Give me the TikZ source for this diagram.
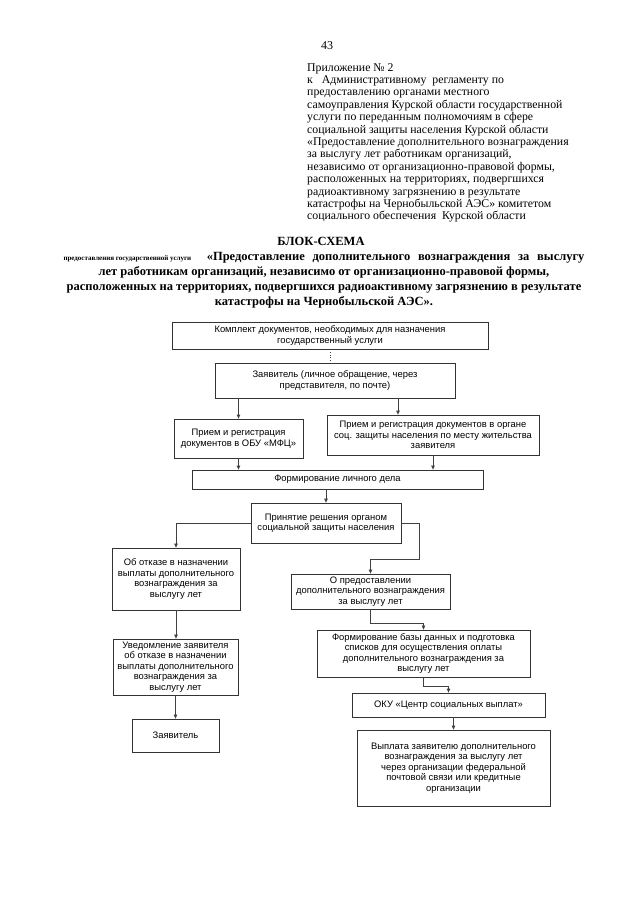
\documentclass[tikz,border=0pt]{standalone}
\usepackage{fontspec}
\setmainfont{Liberation Serif}
\setsansfont{Liberation Sans}
\usepackage{tikz}
\usetikzlibrary{arrows.meta}

\begin{document}
\begin{tikzpicture}[x=1pt,y=-1pt,every node/.style={inner sep=0pt,align=center},
  box/.style={draw=black!80,line width=0.7pt,font=\sffamily\fontsize{9.4}{10.6}\selectfont},
  line/.style={draw=black!75,line width=0.7pt},
  arr/.style={line,-{Triangle[length=4pt,width=3.4pt]}}]
\useasboundingbox[fill=white] (0,0) rectangle (640,905);

% header
\node[font=\fontsize{12}{12}\selectfont] (page) at (327,46) {43};
\node[anchor=north west,align=left,font=\fontsize{11.8}{12.4}\selectfont] (annex) at (307,63) {Приложение № 2\\
к\ \ \ Административному\ \ регламенту по\\
предоставлению органами местного\\
самоуправления Курской области государственной\\
услуги по переданным полномочиям в сфере\\
социальной защиты населения Курской области\\
«Предоставление дополнительного вознаграждения\\
за выслугу лет работникам организаций,\\
независимо от организационно-правовой формы,\\
расположенных на территориях, подвергшихся\\
радиоактивному загрязнению в результате\\
катастрофы на Чернобыльской АЭС» комитетом\\
социального обеспечения\ \ Курской области};

\node[font=\bfseries\fontsize{12.5}{14}\selectfont] (title) at (321,241) {БЛОК-СХЕМА};
\node[font=\bfseries\fontsize{12.5}{15}\selectfont] (subtitle) at (324,280) {\makebox[521pt][s]{\mbox{\fontsize{7}{8}\selectfont предоставления государственной услуги}\ \ «Предоставление дополнительного вознаграждения за выслугу}\\
лет работникам организаций, независимо от организационно-правовой формы,\\
расположенных на территориях, подвергшихся радиоактивному загрязнению в результате\\
катастрофы на Чернобыльской АЭС».};

% boxes
\node[box,minimum width=316pt,minimum height=27pt] (komplekt) at (330,335.5) {Комплект документов, необходимых для назначения\\государственный услуги};
\node[box,minimum width=240pt,minimum height=35pt] (zayav) at (335,380.5) {Заявитель (личное обращение, через\\представителя, по почте)};
\node[box,minimum width=129pt,minimum height=39pt] (mfc) at (238.5,438.5) {Прием и регистрация\\документов в ОБУ «МФЦ»};
\node[box,minimum width=212pt,minimum height=40pt] (organ) at (433,435) {Прием и регистрация документов в органе\\соц. защиты населения по месту жительства\\заявителя};
\node[box,minimum width=291pt,minimum height=19pt] (delo) at (337.5,479.5) {Формирование личного дела};
\node[box,minimum width=150pt,minimum height=40pt] (reshenie) at (326,523) {Принятие решения органом\\социальной защиты населения};
\node[box,minimum width=128pt,minimum height=62pt] (otkaz) at (176,579) {Об отказе в назначении\\выплаты дополнительного\\вознаграждения за\\выслугу лет};
\node[box,minimum width=159pt,minimum height=35pt] (predost) at (370.5,591.5) {О предоставлении\\дополнительного вознаграждения\\за выслугу лет};
\node[box,minimum width=125pt,minimum height=56pt] (uvedoml) at (175.5,667) {Уведомление заявителя\\об отказе в назначении\\выплаты дополнительного\\вознаграждения за\\выслугу лет};
\node[box,minimum width=213pt,minimum height=47pt] (baza) at (423.5,653.5) {Формирование базы данных и подготовка\\списков для осуществления оплаты\\дополнительного вознаграждения за\\выслугу лет};
\node[box,minimum width=193pt,minimum height=24pt] (oku) at (448.5,705) {ОКУ «Центр социальных выплат»};
\node[box,minimum width=87pt,minimum height=33pt] (zayav2) at (175.5,735.5) {Заявитель};
\node[box,minimum width=193pt,minimum height=76pt] (vyplata) at (453.5,768) {Выплата заявителю дополнительного\\вознаграждения за выслугу лет\\через организации федеральной\\почтовой связи или кредитные\\организации};

% connectors
\draw[line,dotted] (komplekt.south) -- (komplekt.south |- zayav.north);
\draw[arr] (zayav.south -| mfc.north) -- (mfc.north);
\draw[arr] ([xshift=-35pt]organ.north |- zayav.south) -- ([xshift=-35pt]organ.north);
\draw[arr] (mfc.south) -- (mfc.south |- delo.north);
\draw[arr] (organ.south) -- (organ.south |- delo.north);
\draw[arr] (delo.south -| reshenie.north) -- (reshenie.north);
\draw[arr] (reshenie.west) -| (otkaz.north);
\draw[arr] (reshenie.east) -- ++(18,0) |- ([yshift=14pt]predost.north) -- (predost.north);
\draw[arr] (otkaz.south) -- (otkaz.south |- uvedoml.north);
\draw[arr] (uvedoml.south) -- (uvedoml.south |- zayav2.north);
\draw[arr] (predost.south) -- ++(0,14) -| (baza.north);
\draw[arr] (baza.south) -- ++(0,9) -| (oku.north);
\draw[arr] (oku.south -| vyplata.north) -- (vyplata.north);
\end{tikzpicture}
\end{document}
